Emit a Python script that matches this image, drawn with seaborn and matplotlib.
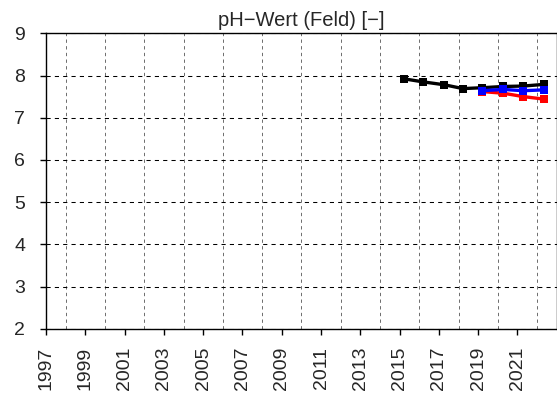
import numpy as np
import pandas as pd
import matplotlib
matplotlib.use("Agg")
import matplotlib.pyplot as plt
import seaborn as sns

# ---------------------------------------------------------
# DATA
# ---------------------------------------------------------
black_years = [2015.24, 2016.18, 2017.28, 2018.22, 2019.18, 2020.28, 2021.3, 2022.36]
black_values = [7.92, 7.85, 7.78, 7.69, 7.71, 7.74, 7.75, 7.79]

red_years = [2019.18, 2020.28, 2021.3, 2022.36]
red_values = [7.62, 7.58, 7.50, 7.44]

blue_years = [2019.18, 2020.28, 2021.3, 2022.36]
blue_values = [7.64, 7.67, 7.64, 7.66]

title = "pH\u2212Wert (Feld) [\u2212]"
x_labels = list(range(1997, 2022, 2))
y_labels = list(range(2, 10))

series = [
    ("black", black_years, black_values),
    ("#ff0000", red_years, red_values),
    ("#0000ff", blue_years, blue_values),
]

# ---------------------------------------------------------
# PLOT
# ---------------------------------------------------------
sns.set_style("white")
plt.rcParams["font.family"] = ["Liberation Sans", "DejaVu Sans"]

fig = plt.figure(figsize=(5.57, 4.01), dpi=100)
ax = fig.add_axes([0.0826, 0.18, 0.917, 0.737])

# black first, then red, blue on top
for i, (col, yrs, vals) in enumerate(series):
    d = pd.DataFrame({"Jahr": yrs, "Wert": vals})
    sns.lineplot(data=d, x="Jahr", y="Wert", color=col,
                 marker="s", markersize=6, markeredgewidth=0, linewidth=2.4,
                 ax=ax, estimator=None, sort=False, zorder=3 + i)

ax.set_xlim(1997, 2023)
ax.set_ylim(2, 9)
ax.set_xticks(x_labels)
ax.set_xticklabels([str(x) for x in x_labels], rotation=90, fontsize=14)
ax.set_xticks(range(1997, 2024), minor=True)
ax.set_yticks(y_labels)
ax.set_yticklabels([str(y) for y in y_labels], fontsize=14)

ax.grid(which="minor", axis="x", color="#555555", linestyle=(0, (4, 4)), linewidth=0.6)
ax.grid(which="major", axis="y", color="black", linestyle=(0, (4, 4)), linewidth=0.75)
ax.set_axisbelow(True)

ax.tick_params(axis="x", which="major", direction="out", length=4, width=1,
               color="black", bottom=True, pad=9)
ax.tick_params(axis="y", which="major", direction="out", length=4, width=1,
               color="black", left=True, pad=11)
ax.tick_params(which="minor", length=0)
for s in ax.spines.values():
    s.set_color("black")
    s.set_linewidth(1)

ax.set_xlabel("")
ax.set_ylabel("")
ax.set_title(title, fontsize=14.5, pad=5)

plt.savefig("out.png", dpi=100)
